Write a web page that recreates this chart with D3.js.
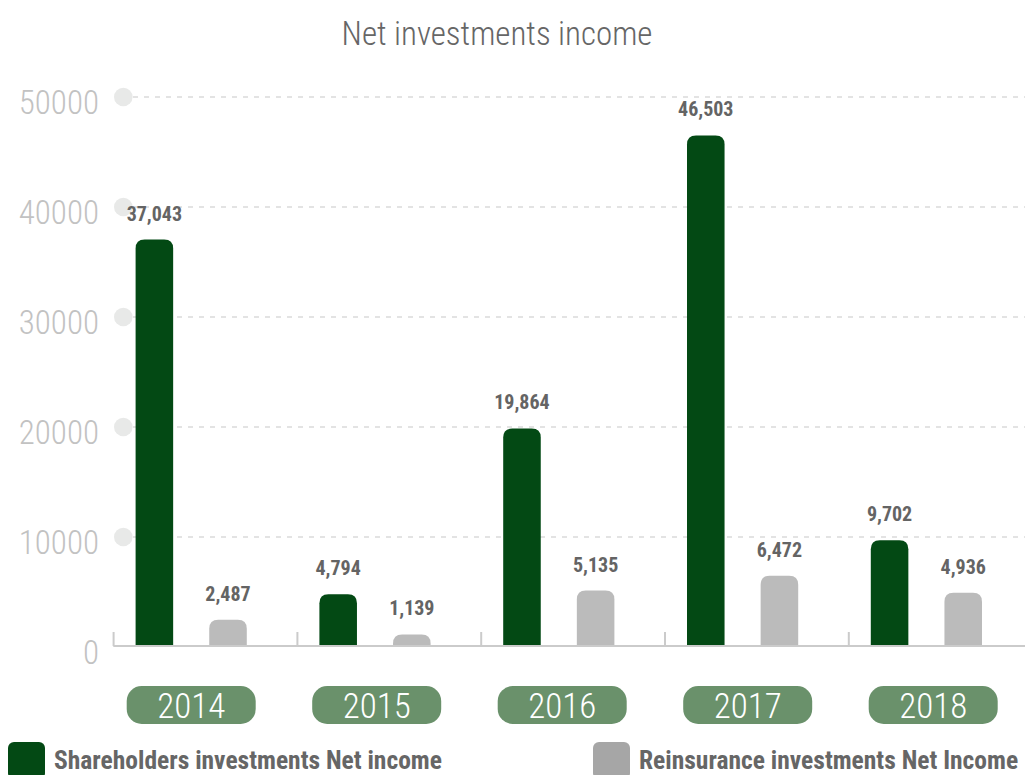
<!DOCTYPE html>
<html>
<head>
<meta charset="utf-8">
<script src="https://cdn.jsdelivr.net/npm/d3@7"></script>
<style>
  html, body { margin: 0; padding: 0; background: #ffffff; }
  svg { display: block; }
  .cond { font-family: "Roboto Condensed", "Liberation Sans Narrow", "Arial Narrow", Roboto, sans-serif; }
</style>
</head>
<body>
<svg id="chart" width="1025" height="775"></svg>
<script>
// Chart values
const years = ["2014", "2015", "2016", "2017", "2018"];
const seriesNames = ["Shareholders investments Net income", "Reinsurance investments Net Income"];
const shareholders = [37043, 4794, 19864, 46503, 9702];
const reinsurance = [2487, 1139, 5135, 6472, 4936];
const yTicks = [0, 10000, 20000, 30000, 40000, 50000];
const title = "Net investments income";

const colors = {
  shareholders: "#034914",
  reinsurance: "#bbbbbb",
  legendGray: "#a6a6a6",
  pill: "#6a916b",
  label: "#646464",
  tick: "#c2c2c2",
  grid: "#e3e3e3",
  dot: "#e8e9e8",
  axis: "#cbcbcb"
};

const svg = d3.select("#chart");

const x = d3.scaleBand().domain(years).range([113.6, 113.6 + 5 * 183.8]);
const xs = d3.scaleBand().domain(["s", "r"]).range([22, 133.2]).paddingInner(0.49);
const y = d3.scaleLinear().domain([0, 50000]).range([647, 97]);

const rows = years.map((yr, i) => ({ year: yr, s: shareholders[i], r: reinsurance[i] }));

// Title
svg.append("text")
  .attr("class", "cond")
  .attr("x", 497).attr("y", 45)
  .attr("text-anchor", "middle")
  .attr("font-size", 33).attr("font-weight", 300)
  .attr("fill", "#666666")
  .text(title);

// Dashed gridlines with a dot at their start
const gridTicks = yTicks.filter(v => v > 0);
svg.append("g").selectAll("line").data(gridTicks).join("line")
  .attr("x1", 133).attr("x2", 1025)
  .attr("y1", d => y(d)).attr("y2", d => y(d))
  .attr("stroke", colors.grid).attr("stroke-width", 2)
  .attr("stroke-dasharray", "5,6");
svg.append("g").selectAll("circle").data(gridTicks).join("circle")
  .attr("cx", 123.3).attr("cy", d => y(d)).attr("r", 9.3)
  .attr("fill", colors.dot);

// Y tick labels
svg.append("g").selectAll("text").data(yTicks).join("text")
  .attr("class", "cond")
  .attr("x", 99).attr("y", d => y(d) + 17)
  .attr("text-anchor", "end")
  .attr("font-size", 33).attr("font-weight", 300)
  .attr("fill", colors.tick)
  .text(d => d);

// Bars with rounded tops
function topRounded(x0, y0, w, h, r) {
  r = Math.min(r, w / 2, h);
  return `M${x0},${y0 + h}V${y0 + r}Q${x0},${y0} ${x0 + r},${y0}H${x0 + w - r}Q${x0 + w},${y0} ${x0 + w},${y0 + r}V${y0 + h}Z`;
}

const groups = svg.append("g").selectAll("g").data(rows).join("g")
  .attr("transform", d => `translate(${x(d.year)},0)`);

groups.selectAll("path").data(d => [
  { key: "s", v: d.s, c: colors.shareholders },
  { key: "r", v: d.r, c: colors.reinsurance }
]).join("path")
  .attr("d", d => topRounded(xs(d.key), y(d.v), xs.bandwidth(), y(0) - y(d.v), 9))
  .attr("fill", d => d.c);

groups.selectAll("text.val").data(d => [
  { key: "s", v: d.s },
  { key: "r", v: d.r }
]).join("text")
  .attr("class", "val cond")
  .attr("x", d => xs(d.key) + xs.bandwidth() / 2)
  .attr("y", d => y(d.v) - 19)
  .attr("text-anchor", "middle")
  .attr("font-size", 20).attr("font-weight", 700)
  .attr("fill", colors.label)
  .text(d => d3.format(",")(d.v));

// Axis baseline and category separators
const axis = svg.append("g");
axis.append("line")
  .attr("x1", 113.3).attr("x2", 1025)
  .attr("y1", 646).attr("y2", 646)
  .attr("stroke", colors.axis).attr("stroke-width", 2);
axis.selectAll("line.sep").data(years).join("line")
  .attr("class", "sep")
  .attr("x1", d => x(d)).attr("x2", d => x(d))
  .attr("y1", 632).attr("y2", 646)
  .attr("stroke", colors.axis).attr("stroke-width", 2);

// Year pills
const pillW = 129, pillH = 38;
const pills = svg.append("g").selectAll("g").data(years).join("g")
  .attr("transform", (d, i) => `translate(${x(d) + 77.6 + i * 1.7},705)`);
pills.append("rect")
  .attr("x", -pillW / 2).attr("y", -pillH / 2)
  .attr("width", pillW).attr("height", pillH)
  .attr("rx", 15).attr("ry", 15)
  .attr("fill", colors.pill);
pills.append("text")
  .attr("class", "cond")
  .attr("x", 0).attr("y", 13)
  .attr("text-anchor", "middle")
  .attr("font-size", 35).attr("font-weight", 300)
  .attr("fill", "#ffffff")
  .text(d => d);

// Legend
const legend = svg.append("g");
const legendItems = [
  { name: seriesNames[0], c: colors.shareholders, x: 8 },
  { name: seriesNames[1], c: colors.legendGray, x: 593 }
];
const li = legend.selectAll("g").data(legendItems).join("g")
  .attr("transform", d => `translate(${d.x},742)`);
li.append("rect")
  .attr("width", 37).attr("height", 37)
  .attr("rx", 6).attr("ry", 6)
  .attr("fill", d => d.c);
li.append("text")
  .attr("class", "cond")
  .attr("x", 46).attr("y", 27)
  .attr("font-size", 25.5).attr("font-weight", 700)
  .attr("fill", "#666666")
  .text(d => d.name);
</script>
</body>
</html>
